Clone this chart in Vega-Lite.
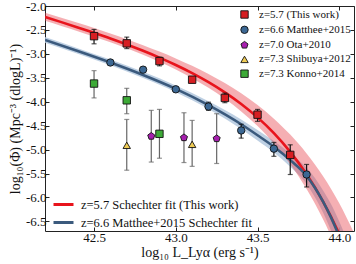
{
  "$schema": "https://vega.github.io/schema/vega-lite/v6.json",
  "width": 309,
  "height": 225,
  "autosize": {"type": "none"},
  "padding": {"left": 45, "top": 6, "right": 2, "bottom": 33},
  "background": "white",
  "config": {
    "view": {"stroke": "#222", "strokeWidth": 1},
    "font": "Liberation Serif",
    "axis": {
      "grid": false,
      "domain": false,
      "tickColor": "#222",
      "tickSize": -4,
      "labelFont": "Liberation Serif",
      "labelFontSize": 13,
      "labelColor": "#111",
      "titleFont": "Liberation Serif",
      "titleFontSize": 14,
      "titleFontWeight": "normal",
      "titleColor": "#111"
    },
    "legend": {
      "labelFont": "Liberation Serif",
      "labelColor": "#111",
      "padding": 0,
      "title": null
    }
  },
  "datasets": {
    "points": [
      {"sample": "z=5.7 (This work)", "l": 42.5, "logphi": -2.63, "lo": -2.79, "hi": -2.49},
      {"sample": "z=5.7 (This work)", "l": 42.7, "logphi": -2.78, "lo": -2.89, "hi": -2.65},
      {"sample": "z=5.7 (This work)", "l": 42.9, "logphi": -3.15, "lo": -3.25, "hi": -3.07},
      {"sample": "z=5.7 (This work)", "l": 43.1, "logphi": -3.54, "lo": -3.6, "hi": -3.48},
      {"sample": "z=5.7 (This work)", "l": 43.3, "logphi": -3.92, "lo": -4.02, "hi": -3.82},
      {"sample": "z=5.7 (This work)", "l": 43.5, "logphi": -4.27, "lo": -4.41, "hi": -4.16},
      {"sample": "z=5.7 (This work)", "l": 43.7, "logphi": -5.11, "lo": -5.52, "hi": -4.9},
      {"sample": "z=6.6 Matthee+2015", "l": 42.6, "logphi": -3.18, "lo": -3.23, "hi": -3.13},
      {"sample": "z=6.6 Matthee+2015", "l": 42.8, "logphi": -3.33, "lo": -3.38, "hi": -3.28},
      {"sample": "z=6.6 Matthee+2015", "l": 43.0, "logphi": -3.74, "lo": -3.79, "hi": -3.69},
      {"sample": "z=6.6 Matthee+2015", "l": 43.2, "logphi": -4.1, "lo": -4.18, "hi": -4.01},
      {"sample": "z=6.6 Matthee+2015", "l": 43.4, "logphi": -4.6, "lo": -4.76, "hi": -4.47},
      {"sample": "z=6.6 Matthee+2015", "l": 43.6, "logphi": -4.98, "lo": -5.14, "hi": -4.85},
      {"sample": "z=6.6 Matthee+2015", "l": 43.8, "logphi": -5.52, "lo": -5.78, "hi": -5.31},
      {"sample": "z=7.0 Ota+2010", "l": 42.85, "logphi": -4.72, "lo": -5.26, "hi": -4.18},
      {"sample": "z=7.0 Ota+2010", "l": 43.05, "logphi": -4.75, "lo": -5.27, "hi": -4.23},
      {"sample": "z=7.0 Ota+2010", "l": 43.25, "logphi": -4.77, "lo": -5.29, "hi": -4.25},
      {"sample": "z=7.3 Shibuya+2012", "l": 42.7, "logphi": -4.91, "lo": -5.43, "hi": -4.37},
      {"sample": "z=7.3 Shibuya+2012", "l": 43.1, "logphi": -4.89, "lo": -5.35, "hi": -4.39},
      {"sample": "z=7.3 Konno+2014", "l": 42.5, "logphi": -3.62, "lo": -3.92, "hi": -3.35},
      {"sample": "z=7.3 Konno+2014", "l": 42.7, "logphi": -3.97, "lo": -4.25, "hi": -3.72},
      {"sample": "z=7.3 Konno+2014", "l": 42.9, "logphi": -4.67, "lo": -5.18, "hi": -4.16}
    ],
    "fits": [
      {"fit": "z=5.7 Schechter fit (This work)", "l": 42.2, "logphi": -2.23, "lo": -2.31, "hi": -2.14},
      {"fit": "z=5.7 Schechter fit (This work)", "l": 42.3, "logphi": -2.337, "lo": -2.417, "hi": -2.245},
      {"fit": "z=5.7 Schechter fit (This work)", "l": 42.4, "logphi": -2.447, "lo": -2.527, "hi": -2.352},
      {"fit": "z=5.7 Schechter fit (This work)", "l": 42.5, "logphi": -2.561, "lo": -2.641, "hi": -2.462},
      {"fit": "z=5.7 Schechter fit (This work)", "l": 42.6, "logphi": -2.679, "lo": -2.759, "hi": -2.576},
      {"fit": "z=5.7 Schechter fit (This work)", "l": 42.7, "logphi": -2.804, "lo": -2.884, "hi": -2.695},
      {"fit": "z=5.7 Schechter fit (This work)", "l": 42.8, "logphi": -2.936, "lo": -3.018, "hi": -2.82},
      {"fit": "z=5.7 Schechter fit (This work)", "l": 42.9, "logphi": -3.078, "lo": -3.167, "hi": -2.953},
      {"fit": "z=5.7 Schechter fit (This work)", "l": 43.0, "logphi": -3.232, "lo": -3.329, "hi": -3.095},
      {"fit": "z=5.7 Schechter fit (This work)", "l": 43.1, "logphi": -3.401, "lo": -3.508, "hi": -3.25},
      {"fit": "z=5.7 Schechter fit (This work)", "l": 43.2, "logphi": -3.59, "lo": -3.71, "hi": -3.42},
      {"fit": "z=5.7 Schechter fit (This work)", "l": 43.3, "logphi": -3.803, "lo": -3.939, "hi": -3.61},
      {"fit": "z=5.7 Schechter fit (This work)", "l": 43.4, "logphi": -4.046, "lo": -4.203, "hi": -3.824},
      {"fit": "z=5.7 Schechter fit (This work)", "l": 43.5, "logphi": -4.327, "lo": -4.509, "hi": -4.069},
      {"fit": "z=5.7 Schechter fit (This work)", "l": 43.6, "logphi": -4.657, "lo": -4.872, "hi": -4.353},
      {"fit": "z=5.7 Schechter fit (This work)", "l": 43.7, "logphi": -5.048, "lo": -5.304, "hi": -4.686},
      {"fit": "z=5.7 Schechter fit (This work)", "l": 43.8, "logphi": -5.516, "lo": -5.823, "hi": -5.081},
      {"fit": "z=5.7 Schechter fit (This work)", "l": 43.9, "logphi": -6.079, "lo": -6.451, "hi": -5.552},
      {"fit": "z=5.7 Schechter fit (This work)", "l": 44.0, "logphi": -6.764, "lo": -7.217, "hi": -6.122},
      {"fit": "z=5.7 Schechter fit (This work)", "l": 44.1, "logphi": -7.602, "lo": -8.158, "hi": -6.814},
      {"fit": "z=6.6 Matthee+2015 Schechter fit", "l": 42.2, "logphi": -2.71, "lo": -2.77, "hi": -2.65},
      {"fit": "z=6.6 Matthee+2015 Schechter fit", "l": 42.4, "logphi": -2.94, "lo": -3.0, "hi": -2.88},
      {"fit": "z=6.6 Matthee+2015 Schechter fit", "l": 42.6, "logphi": -3.18, "lo": -3.24, "hi": -3.12},
      {"fit": "z=6.6 Matthee+2015 Schechter fit", "l": 42.8, "logphi": -3.44, "lo": -3.505, "hi": -3.375},
      {"fit": "z=6.6 Matthee+2015 Schechter fit", "l": 43.0, "logphi": -3.73, "lo": -3.8, "hi": -3.66},
      {"fit": "z=6.6 Matthee+2015 Schechter fit", "l": 43.2, "logphi": -4.07, "lo": -4.15, "hi": -3.99},
      {"fit": "z=6.6 Matthee+2015 Schechter fit", "l": 43.4, "logphi": -4.47, "lo": -4.57, "hi": -4.37},
      {"fit": "z=6.6 Matthee+2015 Schechter fit", "l": 43.5, "logphi": -4.7, "lo": -4.81, "hi": -4.59},
      {"fit": "z=6.6 Matthee+2015 Schechter fit", "l": 43.6, "logphi": -4.94, "lo": -5.06, "hi": -4.82},
      {"fit": "z=6.6 Matthee+2015 Schechter fit", "l": 43.7, "logphi": -5.22, "lo": -5.36, "hi": -5.08},
      {"fit": "z=6.6 Matthee+2015 Schechter fit", "l": 43.8, "logphi": -5.55, "lo": -5.72, "hi": -5.38},
      {"fit": "z=6.6 Matthee+2015 Schechter fit", "l": 43.85, "logphi": -5.79, "lo": -5.99, "hi": -5.59},
      {"fit": "z=6.6 Matthee+2015 Schechter fit", "l": 43.9, "logphi": -6.08, "lo": -6.31, "hi": -5.85},
      {"fit": "z=6.6 Matthee+2015 Schechter fit", "l": 43.95, "logphi": -6.42, "lo": -6.7, "hi": -6.14},
      {"fit": "z=6.6 Matthee+2015 Schechter fit", "l": 44.0, "logphi": -6.82, "lo": -7.14, "hi": -6.5},
      {"fit": "z=6.6 Matthee+2015 Schechter fit", "l": 44.05, "logphi": -7.28, "lo": -7.65, "hi": -6.91}
    ]
  },
  "resolve": {"axis": {"x": "independent", "y": "independent"}},
  "layer": [
    {
      "data": {"name": "fits"},
      "transform": [{"filter": "datum.fit == 'z=6.6 Matthee+2015 Schechter fit'"}],
      "mark": {"type": "area", "clip": true, "color": "#b3c8de", "opacity": 0.85, "interpolate": "monotone"},
      "encoding": {
        "x": {
          "field": "l", "type": "quantitative",
          "scale": {"domain": [42.2, 44.09], "nice": false, "zero": false},
          "axis": {
            "orient": "bottom", "values": [42.5, 43.0, 43.5, 44.0],
            "format": ".1f", "labelPadding": 4, "labelFlush": false,
            "title": "log₁₀ L_Lyα (erg s⁻¹)", "titlePadding": 1
          }
        },
        "y": {
          "field": "lo", "type": "quantitative",
          "scale": {"domain": [-6.7, -2.0], "nice": false, "zero": false},
          "axis": {
            "orient": "left", "values": [-6.5, -6.0, -5.5, -5.0, -4.5, -4.0, -3.5, -3.0, -2.5, -2.0],
            "labelExpr": "(datum.value < 0 ? '-' : '') + format(abs(datum.value), '.1f')",
            "labelPadding": 3, "labelFlush": false,
            "title": "log₁₀(Φ) (Mpc⁻³ (dlogL)⁻¹)", "titlePadding": 3
          }
        },
        "y2": {"field": "hi"}
      }
    },
    {
      "data": {"name": "fits"},
      "transform": [{"filter": "datum.fit == 'z=5.7 Schechter fit (This work)'"}],
      "mark": {"type": "area", "clip": true, "color": "#e8414a", "opacity": 0.42, "interpolate": "monotone"},
      "encoding": {
        "x": {
          "field": "l", "type": "quantitative",
          "axis": {"orient": "top", "values": [42.5, 43.0, 43.5, 44.0], "labels": false, "title": null}
        },
        "y": {
          "field": "lo", "type": "quantitative",
          "axis": {"orient": "right", "values": [-6.5, -6.0, -5.5, -5.0, -4.5, -4.0, -3.5, -3.0, -2.5, -2.0], "labels": false, "title": null}
        },
        "y2": {"field": "hi"}
      }
    },
    {
      "data": {"name": "fits"},
      "mark": {"type": "line", "clip": true, "strokeWidth": 2.6, "interpolate": "monotone"},
      "encoding": {
        "x": {"field": "l", "type": "quantitative", "axis": null},
        "y": {"field": "logphi", "type": "quantitative", "axis": null},
        "order": {"field": "l", "type": "quantitative"},
        "detail": {"field": "fit", "type": "nominal"},
        "stroke": {
          "field": "fit", "type": "nominal",
          "scale": {
            "domain": ["z=6.6 Matthee+2015 Schechter fit", "z=5.7 Schechter fit (This work)"],
            "range": ["#3b5a7d", "#e8141c"]
          },
          "legend": {
            "orient": "none", "legendX": 7, "legendY": 187,
            "values": ["z=5.7 Schechter fit (This work)", "z=6.6 Matthee+2015 Schechter fit"],
            "symbolType": "stroke", "symbolStrokeWidth": 3, "symbolSize": 400,
            "labelFontSize": 12.5, "labelOffset": 6, "rowPadding": 0, "labelLimit": 300
          }
        }
      }
    },
    {
      "data": {"name": "points"},
      "mark": {"type": "rule", "strokeWidth": 1.2},
      "encoding": {
        "x": {"field": "l", "type": "quantitative", "axis": null},
        "y": {"field": "lo", "type": "quantitative", "axis": null},
        "y2": {"field": "hi"},
        "color": {
          "condition": {"test": "datum.sample == 'z=5.7 (This work)' || datum.sample == 'z=6.6 Matthee+2015'", "value": "#111"},
          "value": "#666"
        }
      }
    },
    {
      "data": {"name": "points"},
      "mark": {"type": "point", "shape": "M-1,0L1,0", "filled": false, "size": 25, "strokeWidth": 1.2},
      "encoding": {
        "x": {"field": "l", "type": "quantitative", "axis": null},
        "y": {"field": "lo", "type": "quantitative", "axis": null},
        "color": {
          "condition": {"test": "datum.sample == 'z=5.7 (This work)' || datum.sample == 'z=6.6 Matthee+2015'", "value": "#111"},
          "value": "#666"
        }
      }
    },
    {
      "data": {"name": "points"},
      "mark": {"type": "point", "shape": "M-1,0L1,0", "filled": false, "size": 25, "strokeWidth": 1.2},
      "encoding": {
        "x": {"field": "l", "type": "quantitative", "axis": null},
        "y": {"field": "hi", "type": "quantitative", "axis": null},
        "color": {
          "condition": {"test": "datum.sample == 'z=5.7 (This work)' || datum.sample == 'z=6.6 Matthee+2015'", "value": "#111"},
          "value": "#666"
        }
      }
    },
    {
      "data": {"name": "points"},
      "mark": {"type": "point", "filled": true, "size": 55, "stroke": "#111", "strokeWidth": 0.9, "opacity": 1},
      "encoding": {
        "x": {"field": "l", "type": "quantitative", "axis": null},
        "y": {"field": "logphi", "type": "quantitative", "axis": null},
        "fill": {
          "field": "sample", "type": "nominal",
          "scale": {
            "domain": ["z=5.7 (This work)", "z=6.6 Matthee+2015", "z=7.0 Ota+2010", "z=7.3 Shibuya+2012", "z=7.3 Konno+2014"],
            "range": ["#d71e22", "#3c6894", "#a61fae", "#f0cc55", "#3daa37"]
          },
          "legend": {
            "orient": "none", "legendX": 194, "legendY": 3,
            "labelFontSize": 11, "labelOffset": 9, "rowPadding": 2.3,
            "symbolStrokeColor": "#111", "symbolStrokeWidth": 0.9, "symbolSize": 55, "labelLimit": 200
          }
        },
        "shape": {
          "field": "sample", "type": "nominal",
          "scale": {
            "domain": ["z=5.7 (This work)", "z=6.6 Matthee+2015", "z=7.0 Ota+2010", "z=7.3 Shibuya+2012", "z=7.3 Konno+2014"],
            "range": ["square", "circle", "M0,-1L0.951,-0.309L0.588,0.809L-0.588,0.809L-0.951,-0.309Z", "triangle-up", "square"]
          }
        }
      }
    }
  ]
}
